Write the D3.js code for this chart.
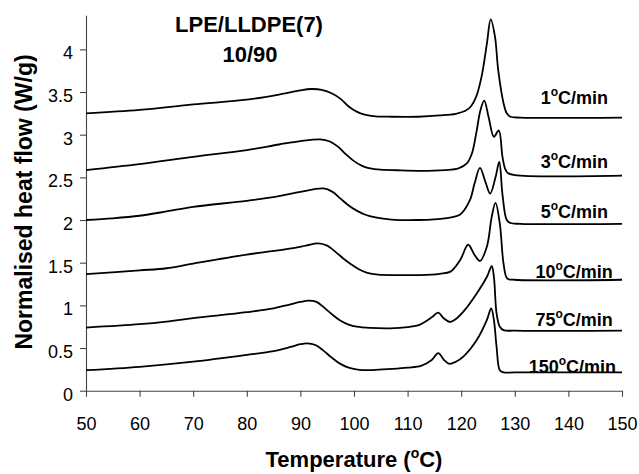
<!DOCTYPE html>
<html>
<head>
<meta charset="utf-8">
<script src="https://cdn.jsdelivr.net/npm/d3@7"></script>
<style>
  body { margin: 0; background: #fff; }
  svg text { font-family: "Liberation Sans", Arial, sans-serif; fill: #000; }
</style>
</head>
<body>
<div id="chart"></div>
<script>
// DSC heating traces, [temperature °C, normalised heat flow W/g]
const rates = ["1", "3", "5", "10", "75", "150"]

const curve1 = [[50,3.25],[60,3.29],[70,3.355],[80,3.41],[86,3.47],[90,3.52],[92,3.535],[94,3.525],[96,3.48],[97.5,3.42],[99,3.33],[100.5,3.27],[102,3.235],[104,3.215],[107,3.21],[112,3.21],[116,3.225],[119,3.245],[120.8,3.28],[121.8,3.33],[122.8,3.445],[123.8,3.68],[124.8,4.07],[125.5,4.35],[126.3,4.15],[126.9,3.76],[127.9,3.37],[128.5,3.25],[129.2,3.21],[131,3.20],[150,3.20]]

const curve3 = [[50,2.585],[60,2.655],[70,2.74],[80,2.82],[86,2.885],[90,2.925],[93.7,2.945],[95.5,2.92],[97,2.86],[98.5,2.77],[100,2.69],[101.5,2.635],[103,2.605],[105,2.59],[108,2.583],[112,2.577],[117,2.585],[119.5,2.605],[121,2.66],[122,2.78],[122.8,3.015],[123.6,3.29],[124.3,3.40],[125.1,3.21],[126.1,2.976],[127.0,3.05],[127.7,2.74],[128.2,2.60],[128.7,2.55],[130,2.525],[150,2.52]]

const curve5 = [[50,2.0],[55,2.02],[60,2.05],[65,2.10],[70,2.155],[80,2.225],[86,2.28],[90,2.33],[94.3,2.37],[96,2.33],[97.5,2.25],[99,2.17],[100.5,2.11],[102,2.065],[104,2.03],[107,2.005],[112,2.0],[117,2.02],[119.8,2.065],[121.6,2.23],[122.5,2.43],[123.5,2.61],[124.5,2.45],[125.4,2.31],[126.4,2.5],[127.1,2.68],[127.7,2.30],[128.5,2.0],[129.2,1.965],[131,1.955],[150,1.955]]

const curve10 = [[50,1.365],[60,1.41],[65,1.435],[70,1.49],[80,1.595],[88,1.665],[91,1.70],[93.3,1.727],[95,1.70],[96.5,1.63],[98,1.55],[99.5,1.48],[101,1.42],[102.5,1.38],[104.5,1.36],[108,1.355],[112.3,1.355],[116,1.37],[118,1.395],[119.8,1.53],[121.3,1.71],[122.5,1.59],[123.5,1.52],[124.8,1.69],[125.7,2.04],[126.4,2.20],[127.2,1.96],[127.9,1.49],[128.6,1.315],[130,1.30],[150,1.30]]

const curve75 = [[50,0.74],[60,0.78],[65,0.81],[70,0.85],[80,0.92],[85,0.965],[88,1.01],[90,1.04],[91.5,1.055],[93,1.04],[94.5,0.97],[96,0.89],[97.5,0.82],[99,0.775],[100.5,0.75],[103,0.735],[106.7,0.73],[110,0.745],[112.3,0.775],[114.5,0.86],[115.7,0.914],[116.8,0.845],[117.9,0.805],[119,0.84],[120.4,0.926],[122.9,1.14],[124.8,1.335],[125.7,1.46],[126.1,1.335],[126.6,0.905],[127.2,0.75],[127.9,0.71],[130,0.703],[150,0.703]]

const curve150 = [[50,0.24],[60,0.28],[70,0.34],[80,0.42],[85,0.465],[88,0.51],[90,0.545],[91.2,0.555],[92.8,0.535],[94.3,0.47],[95.8,0.39],[97.3,0.32],[99,0.27],[101,0.245],[103.5,0.242],[107,0.255],[110,0.27],[112.5,0.29],[114.5,0.36],[115.7,0.44],[116.8,0.36],[117.8,0.315],[119,0.34],[120.4,0.40],[122.9,0.594],[124.8,0.83],[125.6,0.965],[126.1,0.83],[126.6,0.515],[127.2,0.24],[127.9,0.215],[130,0.215],[150,0.215]]

const curves = [curve1, curve3, curve5, curve10, curve75, curve150]

// where each rate label sits, in data units [right end °C, baseline W/g]
const labelAt = [[147.4,3.36],[147.4,2.613],[147.4,2.02],[148.3,1.317],[148.3,0.758],[148.9,0.204]]

const xTicks = [50,60,70,80,90,100,110,120,130,140,150]
const yTicks = [0,0.5,1,1.5,2,2.5,3,3.5,4]

const width = 639
const height = 474

var svg = d3.select("#chart").append("svg")
  .attr("width", width)
  .attr("height", height)

svg.append("rect").attr("width", width).attr("height", height).attr("fill", "white")

var x = d3.scaleLinear().domain([50, 150]).range([86, 622])
var y = d3.scaleLinear().domain([0, 4.4]).range([390.7, 15.2])

// axes
var xAxis = svg.append("g")
  .attr("transform", "translate(0," + y(0) + ")")
  .call(d3.axisBottom(x).tickValues(xTicks).tickSize(6).tickSizeOuter(0).tickFormat(d => d))
xAxis.selectAll("text").attr("font-size", 18).attr("dy", 0).attr("y", 39.5)

var yAxis = svg.append("g")
  .attr("transform", "translate(" + x(50) + ",0)")
  .call(d3.axisLeft(y).tickValues(yTicks).tickSize(6).tickSizeOuter(0).tickFormat(d => d))
yAxis.selectAll("text").attr("font-size", 18).attr("dy", 0).attr("x", -13).attr("y", 9.6)

svg.selectAll(".domain, .tick line").attr("stroke", "#444").attr("stroke-width", 1.1)

// rate labels (drawn before the traces, the last one sits under its line)
var labels = svg.append("g")
  .selectAll("text")
  .data(rates)
  .enter()
  .append("text")
  .attr("x", (d, i) => x(labelAt[i][0]))
  .attr("y", (d, i) => y(labelAt[i][1]))
  .attr("text-anchor", "end")
  .attr("font-size", 18)
  .attr("font-weight", "bold")
labels.append("tspan").text(d => d)
labels.append("tspan").attr("font-size", 12).attr("dy", -8).text("o")
labels.append("tspan").attr("dy", 8).text("C/min")

// traces
var line = d3.line()
  .x(d => x(d[0]))
  .y(d => y(d[1]))
  .curve(d3.curveCatmullRom.alpha(0.5))

svg.append("g")
  .selectAll("path")
  .data(curves)
  .enter()
  .append("path")
  .attr("d", line)
  .attr("fill", "none")
  .attr("stroke", "#000")
  .attr("stroke-width", 1.8)

// title
svg.append("text").attr("x", 249).attr("y", 32).attr("text-anchor", "middle")
  .attr("font-size", 22).attr("font-weight", "bold").text("LPE/LLDPE(7)")
svg.append("text").attr("x", 250).attr("y", 62).attr("text-anchor", "middle")
  .attr("font-size", 22).attr("font-weight", "bold").text("10/90")

// axis titles
svg.append("text")
  .attr("transform", "translate(32,202) rotate(-90)")
  .attr("text-anchor", "middle")
  .attr("font-size", 23).attr("font-weight", "bold")
  .text("Normalised heat flow (W/g)")

var xt = svg.append("text").attr("x", 354).attr("y", 467).attr("text-anchor", "middle")
  .attr("font-size", 22).attr("font-weight", "bold")
xt.append("tspan").text("Temperature (")
xt.append("tspan").attr("font-size", 14).attr("dy", -9).text("o")
xt.append("tspan").attr("dy", 9).text("C)")
</script>
</body>
</html>
